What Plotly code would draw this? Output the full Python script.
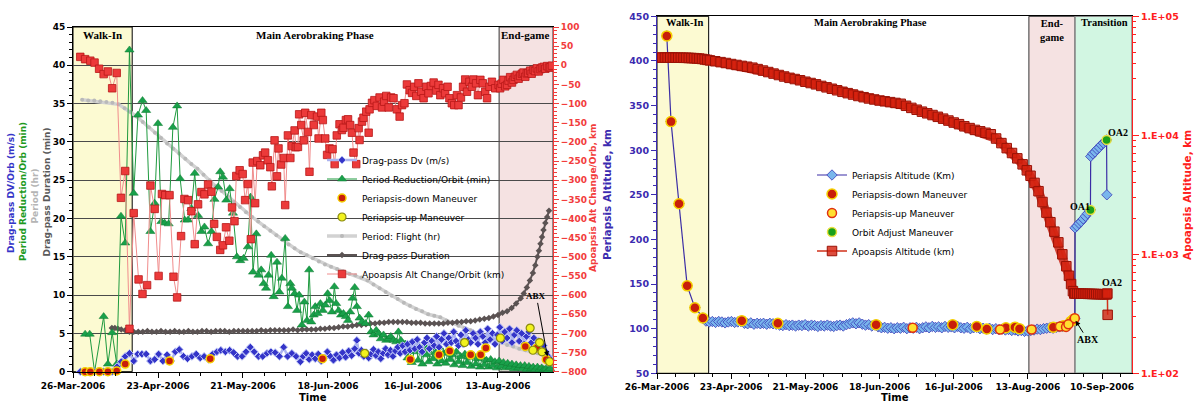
import pandas as pd
import plotly.graph_objects as go

W, H = 1195, 403
BASE = pd.Timestamp("2006-03-26")

# ------------------------------------------------------------------
# LEFT PANEL DATA  (x = days after 26-Mar-2006)
# ------------------------------------------------------------------
dv_days = [2.4, 4.0, 5.7, 7.0, 8.6, 10.1, 11.5, 12.9, 14.5, 15.9, 17.2, 18.6,
           20.0, 21.3, 22.7, 24.1, 25.5, 26.9, 28.2, 29.6, 31.0, 32.3,
           33.7, 35.0, 36.4, 37.7, 39.2, 40.6, 41.9, 43.2, 44.7, 46.0,
           47.4, 48.7, 50.2, 51.6, 52.9, 54.2, 55.7, 57.0, 58.4, 59.7,
           61.1, 62.5, 63.9, 65.2, 66.6, 68.0, 69.4, 70.7, 72.1, 73.5, 74.9,
           75.8, 76.8, 77.8, 78.8, 79.8, 80.8, 81.8, 82.8, 83.8, 84.8,
           85.8, 86.8, 87.8, 88.8, 89.8, 90.8, 91.8, 92.8, 93.5, 94.2,
           95.0, 95.8, 96.6, 97.4, 98.2, 99.0, 99.8, 100.6, 101.4, 102.2,
           103.0, 103.8, 104.6, 105.4, 106.2, 107.0, 107.8, 108.6, 109.4, 110.2,
           111.0, 111.8, 112.6, 113.4, 114.2, 115.0, 115.8, 116.6, 117.4, 118.2,
           119.0, 119.8, 120.6, 121.4, 122.2, 123.0, 123.8, 124.6, 125.4, 126.2,
           127.0, 127.8, 128.6, 129.4, 130.2, 131.0, 131.8, 132.6, 133.4, 134.2,
           135.0, 135.8, 136.6, 137.4, 138.2, 139.0, 139.8, 140.6, 141.4, 142.2,
           143.0, 143.8, 144.6, 145.4, 146.2, 147.0, 147.8, 148.6, 149.4, 150.2,
           151.0, 151.8, 152.6, 153.4, 154.2, 155.0, 155.8, 156.6, 157.4]
dv_vals = [0, 0, 0, 0, 0, 0, 0, 0, 0.65, 1.3, 2.0, 2.4,
           1.4, 2.3, 2.3, 2.3, 1.4, 1.6, 2.3, 1.4, 2.2, 1.4,
           2.6, 2.9, 2.0, 1.7, 2.0, 2.3, 1.8, 2.0, 1.6, 2.3,
           2.6, 2.8, 2.6, 2.8, 2.5, 2.0, 2.0, 2.6, 3.2, 2.6,
           2.0, 2.0, 2.4, 2.6, 2.5, 2.0, 3.2, 2.0, 2.4, 2.0, 1.3,
           2.0, 2.4, 1.6, 2.2, 1.7, 2.3, 1.4, 1.8, 2.6, 2.0,
           1.5, 2.2, 1.8, 2.5, 1.9, 2.7, 2.1, 3.0, 4.1, 2.4,
           2.8, 2.0, 2.5, 1.8, 2.3, 2.9, 2.1, 2.6, 1.7, 2.4,
           3.0, 2.2, 2.8, 2.0, 2.7, 3.2, 2.4, 3.4, 2.6, 3.6,
           2.8, 3.9, 3.0, 4.2, 3.2, 2.6, 3.8, 4.4, 3.0, 4.0,
           3.4, 4.6, 3.2, 4.2, 5.0, 3.6, 4.4, 3.8, 5.2, 4.0,
           3.4, 4.8, 3.6, 5.4, 4.2, 3.8, 5.0, 4.4, 3.6, 5.2,
           4.6, 3.8, 5.6, 4.2, 5.0, 3.6, 4.8, 5.8, 4.0, 5.2,
           4.4, 5.6, 3.8, 4.8, 5.4, 4.0, 5.0, 3.6, 4.6, 5.2,
           3.8, 4.4, 3.2, 4.0, 2.8, 3.4, 2.6, 2.0, 1.6]

pr_days = [4.0, 5.5, 7.1, 10.1, 11.5, 12.9, 14.4, 15.8, 17.2, 18.6,
           20.0, 21.4, 22.9, 24.1, 25.5, 26.9, 28.0, 29.1, 30.2, 31.5,
           32.9, 34.3, 35.3, 36.8, 37.9, 39.0, 40.1, 41.2, 42.3, 43.3,
           44.5, 45.6, 46.6, 47.8, 48.5, 49.4, 50.5, 51.6, 52.7, 54.0,
           55.1, 56.2, 57.6, 58.5, 59.3, 60.4, 61.1, 62.0, 62.8, 63.6,
           64.4, 65.3, 66.1, 67.2, 68.0, 68.8, 69.9, 70.8, 71.6, 72.1,
           73.0, 73.8, 74.5, 75.4, 76.2, 77.1, 77.8, 78.5, 79.3, 79.8,
           80.6, 81.5, 82.3, 83.1, 83.9, 84.5, 85.3, 86.1, 86.7, 87.5,
           88.3, 89.1, 89.9, 90.6, 91.3, 92.1, 92.8, 93.5, 94.4, 95.2,
           96.3, 97.4, 98.2, 99.0, 99.9, 100.7, 101.4, 102.3, 103.2, 104.0,
           104.7, 105.6, 106.5, 107.2, 108.0, 108.9,
           109.5, 110.2, 110.9, 111.6, 112.3, 113.0, 113.7, 114.4, 115.1, 115.8,
           116.5, 117.2, 117.9, 118.6, 119.3, 120.0, 120.7, 121.4, 122.1, 122.8,
           123.5, 124.2, 124.9, 125.6, 126.3, 127.0, 127.7, 128.4, 129.1, 129.8,
           130.5, 131.2, 132.0, 132.7, 133.4, 134.1, 134.8, 135.5, 136.2, 136.9,
           137.6, 138.3, 139.0, 139.7, 140.4, 141.1, 141.8, 142.5, 143.2, 143.9,
           144.6, 145.3, 146.0, 146.7, 147.4, 148.1, 148.8, 149.5, 150.2, 150.9,
           151.6, 152.3, 153.0, 153.7, 154.4, 155.1, 155.8, 156.5, 157.2]
pr_vals = [4.9, 4.9, 0, 7.2, 1.0, 5.1, 1.0, 20.3, 16.8, 42.0,
           23.3, 33.5, 35.4, 34.1, 18.3, 22.0, 32.4, 19.6, 19.4, 19.3,
           31.9, 34.7, 25.2, 19.8, 19.8, 21.3, 25.9, 20.4, 18.3, 18.9,
           16.7, 18.3, 22.5, 24.1, 26.1, 25.4, 22.4, 23.9, 20.7, 15.0,
           14.5, 14.8, 16.3, 22.8, 13.0, 18.0, 12.6, 13.3, 11.5, 10.9,
           12.6, 15.2, 9.8, 14.3, 10.4, 12.2, 17.4, 8.5, 11.5, 10.9,
           10.2, 8.0, 10.0, 6.1, 9.1, 6.7, 13.3, 6.5, 7.4, 8.5,
           7.6, 8.9, 8.0, 8.7, 10.2, 9.3, 7.8, 11.1, 8.9, 8.0,
           7.4, 7.6, 7.2, 6.7, 7.8, 9.6, 11.0, 8.5, 7.0, 6.5,
           6.3, 7.4, 5.2, 4.8, 5.4, 5.0, 4.3, 4.8, 4.1, 4.3,
           4.6, 4.1, 3.9, 5.2, 4.1, 3.5,
           3.6, 1.8, 3.0, 1.2, 2.6, 3.8, 1.5, 2.9, 1.0, 3.4,
           2.2, 1.3, 3.1, 1.7, 2.5, 1.0, 3.2, 1.4, 2.4, 1.1,
           2.8, 1.6, 2.2, 0.9, 2.6, 1.3, 2.0, 0.8, 2.3, 1.2,
           1.9, 0.7, 2.1, 1.0, 1.7, 0.6, 1.9, 0.9, 1.5, 0.6,
           1.6, 0.8, 1.3, 0.5, 1.4, 0.7, 1.2, 0.5, 1.1, 0.6,
           1.0, 0.4, 0.9, 0.5, 0.8, 0.4, 0.8, 0.3, 0.7, 0.4,
           0.6, 0.3, 0.6, 0.3, 0.5, 0.3, 0.4, 0.2, 0.4]

period_days = [3, 5, 7, 9, 11, 13, 15, 17, 19, 21, 23, 25, 27, 29, 31, 33, 35, 37, 39, 41,
               43, 45, 47, 49, 51, 53, 55, 57, 59, 61, 63, 65, 67, 69, 71, 73, 75, 77, 79, 81,
               83, 85, 87, 89, 91, 93, 95, 97, 99, 101, 103, 105, 107, 109, 111, 113, 115, 117,
               119, 121, 123, 125, 127, 129, 131, 133, 135, 137, 139, 141, 143, 145, 147, 149,
               151, 153, 155, 157]
period_vals = [35.5, 35.4, 35.4, 35.3, 35.2, 35.1, 34.9, 34.4, 33.9, 33.3,
               32.6, 31.9, 31.2, 30.5, 29.8, 29.1, 28.5, 27.8, 27.1, 26.5,
               25.7, 25.0, 24.2, 23.6, 22.9, 22.2, 21.5, 20.8, 20.2, 19.6,
               19.0, 18.4, 17.8, 17.2, 16.6, 16.1, 15.6, 15.2, 14.8, 14.4,
               14.0, 13.7, 13.4, 13.1, 12.8, 12.6, 12.3, 11.9, 11.4, 10.9,
               10.4, 9.9, 9.5, 9.0, 8.6, 8.2, 7.9, 7.5, 7.3, 7.1,
               6.7, 6.4, 6.0, 5.7, 5.4, 5.0, 4.7, 4.4, 4.1, 3.8,
               3.5, 3.3, 3.0, 2.8, 2.6, 2.4, 2.2, 2.0]

dur_days = [12.8, 13.8, 14.8, 15.9, 17.2, 18.6,
            20.0, 21.5, 23.0, 24.5, 26.0, 27.5, 29.0, 30.5, 32.0, 33.5,
            35.0, 36.5, 38.0, 39.5, 41.0, 42.5, 44.0, 45.5, 47.0, 48.5,
            50.0, 51.5, 53.0, 54.5, 56.0, 57.5, 59.0, 60.5, 62.0, 63.5,
            65.0, 66.5, 68.0, 69.5, 71.0, 72.5, 74.0, 75.5, 77.0, 78.5,
            80.0, 81.5, 83.0, 84.5, 86.0, 87.5, 89.0, 90.5, 92.0, 93.5,
            95.0, 96.5, 98.0, 99.5, 101.0, 102.5, 104.0, 105.5, 107.0, 108.5,
            110.0, 111.5, 113.0, 114.5, 116.0, 117.5, 119.0, 120.5, 122.0, 123.5,
            125.0, 126.5, 128.0, 129.5, 131.0, 132.5, 134.0, 135.5, 137.0, 138.5,
            140.0, 141.5, 143.0, 144.5, 146.0, 147.5,
            148.5, 149.5, 150.5, 151.5,
            152.3, 153.0, 153.5, 154.0, 154.5, 155.0, 155.6, 156.2, 156.8]
dur_vals = [5.7, 5.7, 5.6, 5.5, 5.4, 5.2,
            5.2, 5.2, 5.2, 5.3, 5.2, 5.2, 5.3, 5.2, 5.2, 5.3,
            5.2, 5.2, 5.3, 5.2, 5.2, 5.3, 5.3, 5.2, 5.3, 5.3,
            5.3, 5.2, 5.3, 5.3, 5.3, 5.3, 5.3, 5.3, 5.4, 5.3,
            5.4, 5.4, 5.4, 5.4, 5.4, 5.5, 5.4, 5.5, 5.5, 5.5,
            5.5, 5.6, 5.6, 5.7, 5.7, 5.8, 5.9, 5.9, 6.0, 6.1,
            6.1, 6.2, 6.3, 6.3, 6.4, 6.4, 6.5, 6.5, 6.5, 6.5,
            6.5, 6.4, 6.4, 6.4, 6.3, 6.3, 6.3, 6.3, 6.3, 6.4,
            6.4, 6.5, 6.5, 6.6, 6.6, 6.7, 6.8, 6.9, 7.0, 7.2,
            7.4, 7.7, 7.9, 8.3, 8.9, 9.6,
            10.2, 11.0, 11.9, 12.9,
            13.9, 15.0, 15.8, 16.7, 17.6, 18.5, 19.4, 20.2, 21.0]

pdown_days_L = [4.0, 5.7, 8.7, 11.5, 14.4, 17.2, 31.8, 45.2, 82.2, 111.1,
                120.6, 124.1, 131.0, 134.3, 136.0, 149.0, 152.8, 155.9]
pdown_vals_L = [0, 0, 0, 0, 0.1, 1.0, 1.4, 1.7, 1.7, 1.6,
                2.2, 2.7, 2.2, 2.2, 3.1, 3.3, 3.1, 1.6]
pup_days_L = [96.1, 129.0, 140.8, 150.6, 151.5, 153.7, 154.5, 157.0]
pup_vals_L = [2.4, 3.8, 4.4, 5.7, 2.8, 3.8, 2.6, 1.3]

apo_chg_days = [2.4, 4.0, 5.7, 7.1, 8.6, 10.1, 11.5, 12.9, 14.4, 15.8,
                17.2, 18.6, 20.0, 21.6, 22.9, 24.4, 25.5, 26.9, 28.2, 29.3,
                30.4, 31.8, 33.1, 34.3, 35.6, 36.7, 37.9, 39.0, 40.1, 41.2,
                42.3, 43.3, 44.5, 45.6, 46.5, 47.4, 48.5, 49.4, 50.4, 51.5,
                52.4, 53.2, 53.8, 54.9, 55.9, 56.7, 57.6, 58.6, 59.2, 60.0,
                60.7, 61.7, 62.6, 63.3, 64.2, 65.0, 65.5, 66.4, 67.2, 67.7,
                68.6, 69.4, 69.9, 70.8, 71.6, 72.1, 73.0, 73.4, 74.1, 74.5,
                75.2, 76.0, 76.5, 77.4, 77.9, 78.5, 79.3, 80.4, 80.9, 81.8,
                82.3, 83.1, 83.7, 84.5, 85.5, 86.2, 86.9, 87.8, 88.6, 89.1,
                89.9, 90.6, 91.3, 91.9, 92.4, 93.3, 94.1, 94.4, 95.2, 95.7,
                96.6, 97.4, 97.7, 98.5, 99.3, 100.1, 101.0, 101.8, 102.5, 103.2,
                104.0, 104.8, 105.6, 106.7, 107.6, 108.4, 109.2, 110.0, 110.9, 111.7,
                112.4, 113.1, 113.8, 114.7, 115.5, 116.4, 117.1, 117.9, 118.8, 119.7,
                120.4, 121.0, 121.9, 122.6, 123.4, 124.0, 124.8, 125.6, 126.5, 127.0,
                127.8, 128.5, 129.2, 129.8, 130.6, 131.4, 131.9, 132.8, 133.4, 134.2,
                135.0, 135.8, 136.4, 137.2, 138.0, 139.1, 140.2, 140.7, 141.2, 141.8,
                142.4, 143.0, 143.5, 144.0, 144.6, 145.1, 145.6, 146.2, 146.8, 147.3,
                147.9, 148.4, 149.0, 149.5, 150.0, 150.6, 151.1, 151.7, 152.2, 152.8,
                153.4, 154.0, 154.5, 155.1, 155.6, 156.2, 156.8, 157.3, 157.8]
apo_chg_vals = [22, 16, 12, 7, -9, -23, -16, -60, -20, -346,
                -276, -688, -386, -559, -597, -574, -314, -375, -550, -336,
                -339, -339, -552, -606, -446, -349, -352, -381, -467, -363,
                -331, -337, -311, -330, -414, -448, -482, -470, -423, -458,
                -371, -407, -289, -274, -284, -352, -310, -454, -254, -360,
                -250, -261, -235, -228, -248, -266, -316, -196, -290, -217,
                -259, -242, -365, -183, -242, -211, -170, -214, -213, -128,
                -156, -196, -124, -174, -278, -130, -156, -134, -191, -124,
                -143, -191, -234, -217, -219, -258, -183, -154, -169, -163,
                -143, -141, -156, -176, -228, -258, -164, -195, -147, -137,
                -121, -176, -115, -98, -91, -106, -84, -110, -95, -80,
                -110, -84, -86, -115, -134, -104, -99, -50, -65, -72,
                -56, -80, -47, -69, -86, -56, -73, -54, -45, -66,
                -51, -78, -60, -73, -56, -86, -99, -104, -78, -104,
                -84, -56, -37, -69, -43, -56, -37, -47, -78, -38,
                -47, -69, -86, -56, -43, -60, -51, -60, -48, -38,
                -55, -51, -40, -31, -45, -38, -30, -25, -35, -28,
                -22, -19, -30, -21, -20, -14, -22, -12, -15, -8,
                -16, -10, -6, -4, -9, -2, -6, -5, -1]

# ------------------------------------------------------------------
# RIGHT PANEL DATA
# ------------------------------------------------------------------
peri_days = [3.7, 5.3, 8.3, 11.4, 14.3, 17.3,
             18.5, 19.7, 20.9, 22.1, 23.3, 24.5, 25.7, 26.9, 28.1, 29.3,
             30.5, 31.7, 33.0, 34.2, 35.4, 36.6, 37.8, 39.0, 40.2, 41.4,
             42.6, 43.8, 45.0, 46.3, 47.5, 48.7, 49.9, 51.1, 52.3, 53.5,
             54.7, 55.9, 57.1, 58.3, 59.5, 60.7, 61.9, 63.1, 64.3, 65.5,
             66.7, 67.9, 69.1, 70.3, 71.5, 72.7, 73.9, 75.1, 76.3, 77.5,
             78.7, 79.9, 81.1, 82.3, 83.5, 84.7, 85.9, 87.1, 88.3, 89.5,
             90.7, 91.9, 93.1, 94.3, 95.5, 96.7, 97.9, 99.1, 100.3, 101.5,
             102.7, 103.9, 105.1, 106.3, 107.5, 108.7, 109.9, 111.1, 112.3, 113.5,
             114.7, 115.9, 117.1, 118.3, 119.5, 120.7, 121.9, 123.1, 124.3, 125.5,
             126.7, 127.9, 129.1, 130.3, 131.5, 132.7, 133.9, 135.1, 136.3, 137.5,
             138.7, 139.9, 141.1, 142.3, 143.5, 144.7, 145.9, 147.1, 148.3, 149.5,
             150.7, 151.9, 153.1, 154.3, 155.3, 156.1, 156.9, 157.7,
             157.8, 158.5, 159.3, 160.1, 160.9, 161.7, 162.5, 163.3, 163.6,
             163.7, 164.5, 165.3, 166.1, 166.9, 167.7, 168.5, 169.3, 169.7, 169.8]
peri_vals = [428, 332, 240, 148, 123.5, 112,
             108.5, 107.5, 108.0, 107.0, 108.0, 107.5, 106.5, 107.5, 108.0, 107.0,
             107.5, 108.0, 106.0, 105.5, 106.5, 105.0, 106.0, 105.5, 106.0, 105.0,
             106.0, 105.5, 105.0, 104.0, 103.5, 104.5, 103.5, 104.0, 103.0, 104.0,
             103.5, 104.5, 103.0, 104.0, 103.5, 102.5, 103.5, 103.0, 104.0, 103.0,
             102.5, 103.5, 104.0, 103.0, 104.5, 105.5, 106.5, 105.5, 106.5, 105.0,
             104.0, 104.5, 103.0, 104.0, 102.0, 101.0, 101.5, 100.5, 101.0, 100.0,
             101.0, 100.5, 101.5, 100.0, 101.0, 100.5, 101.5, 100.0, 101.0, 102.0,
             101.0, 102.5, 101.5, 102.0, 101.0, 102.5, 101.5, 102.0, 101.0, 102.5,
             101.0, 100.5, 101.5, 100.0, 101.0, 101.5, 100.0, 100.5, 99.5, 100.5,
             99.0, 100.0, 99.0, 99.5, 98.5, 99.0, 98.0, 98.5, 97.5, 98.0,
             97.0, 97.5, 98.0, 98.5, 99.5, 99.0, 100.0, 100.5, 101.0, 100.5,
             101.5, 102.0, 102.5, 103.5, 105.0, 107.0, 109.0, 111.5,
             213, 215, 218, 220, 223, 226, 229, 232, 233,
             293, 296, 298, 301, 303, 306, 308, 310, 311.5, 250]

pdown_days_R = [3.7, 5.3, 8.3, 11.4, 14.3, 17.3, 32.0, 45.6, 82.7, 111.6,
                120.7, 124.5, 131.7, 135.1, 136.8, 149.6, 153.4, 156.2, 157.2]
pdown_vals_R = [428, 332, 240, 148, 123.5, 112, 109, 106, 104.5, 104.5,
                102.5, 99.6, 101, 101.7, 100, 101.7, 103.4, 108, 110.5]
pup_days_R = [96.5, 129.5, 141.4, 152.1, 154.4, 155.3, 157.7]
pup_vals_R = [101, 99, 99, 102.5, 102, 105, 111.6]
oa_days = [163.6, 169.7]
oa_vals = [233, 311.5]

apo_days = [1, 2, 3, 4, 5, 6, 7, 8, 9, 10, 11, 12, 13, 14, 15, 16, 17, 18, 19, 20,
            22, 24, 26, 28, 30, 32, 34, 36, 38, 40,
            42, 44, 46, 48, 50, 52, 54, 56, 58, 60,
            62, 64, 66, 68, 70, 72, 74, 76, 78, 80,
            82, 84, 86, 88, 90, 92, 94, 96, 98, 100,
            102, 104, 106, 108, 110, 112, 114, 116, 118, 120,
            122, 124, 126, 128, 130, 132, 134, 136, 138,
            139.6, 141, 142.5, 144, 145.5, 147, 148.5, 150, 151.5, 153, 154.5,
            155.5, 156.3, 157, 157.5,
            157.8, 158.6, 159.4, 160.2, 161.0, 161.8, 162.6, 163.4, 164.2, 165.0,
            165.8, 166.6, 167.4, 168.2, 169.0, 169.7,
            170.0, 170.1]
apo_vals = [45000, 45000, 45000, 45000, 45000, 45000, 44900, 44900, 44900, 44800,
            44800, 44700, 44600, 44500, 44300, 44100, 43800, 43400, 43000, 42600,
            41900, 41200, 40500, 39700, 39000, 38300, 37700, 37000, 36000, 35000,
            34000, 33000, 32100, 31200, 30400, 29700, 29000, 28200, 27500, 26800,
            26000, 25300, 24600, 23900, 23200, 22600, 22000, 21400, 20900, 20400,
            20000, 19600, 19300, 19000, 18700, 18400, 17700, 17000, 16400, 15800,
            15300, 14800, 14300, 13800, 13300, 12800, 12400, 11900, 11500, 11100,
            10800, 10500, 10200, 9400, 8600, 7800, 7100, 6400, 5700,
            5080, 4570, 3980, 3390, 2750, 2240, 1860, 1550, 1260, 1000, 794,
            660, 562, 490, 468,
            470, 468, 468, 467, 466, 466, 465, 465, 464, 464,
            463, 463, 462, 462, 461, 460,
            468, 310]

x_tick_start = "2006-03-26"
left_x_range = ["2006-03-26", "2006-08-31 03:00"]
right_x_range = ["2006-03-26", "2006-09-21 07:00"]
walkin_end = "2006-04-14 12:00"
endgame_start = "2006-08-13 09:00"
transition_start = "2006-08-30 19:00"

pairs = [(dv_days, dv_vals), (pr_days, pr_vals), (period_days, period_vals),
         (dur_days, dur_vals), (pdown_days_L, pdown_vals_L), (pup_days_L, pup_vals_L),
         (apo_chg_days, apo_chg_vals), (peri_days, peri_vals), (pdown_days_R, pdown_vals_R),
         (pup_days_R, pup_vals_R), (oa_days, oa_vals), (apo_days, apo_vals)]
for i, (a, b) in enumerate(pairs):
    assert len(a) == len(b), f"pair {i}: {len(a)} vs {len(b)}"


def D(days):
    return [BASE + pd.Timedelta(days=d) for d in days]


def px(x):
    return x / W


def py(y):
    return 1 - y / H


fig = go.Figure()

# ---------------- left panel traces ----------------
fig.add_trace(go.Scatter(x=D(period_days), y=period_vals, name="Period: Flight (hr)",
                         mode="lines+markers", xaxis="x", yaxis="y", legendrank=5,
                         line=dict(color="#d2d2d2", width=3.5),
                         marker=dict(symbol="circle", size=4, color="#b9b9b9")))
fig.add_trace(go.Scatter(x=D(dur_days), y=dur_vals, name="Drag-pass Duration",
                         mode="lines+markers", xaxis="x", yaxis="y", legendrank=6,
                         line=dict(color="#5b5353", width=2),
                         marker=dict(symbol="diamond", size=5, color="#5b5353")))
fig.add_trace(go.Scatter(x=D(pr_days), y=pr_vals, name="Period Reduction/Orbit (min)",
                         mode="lines+markers", xaxis="x", yaxis="y", legendrank=2, cliponaxis=False,
                         line=dict(color="#1f9a3f", width=1),
                         marker=dict(symbol="triangle-up", size=8, color="#19a04a",
                                     line=dict(color="#0f7a30", width=0.5))))
fig.add_trace(go.Scatter(x=D(dv_days), y=dv_vals, name="Drag-pass Dv (m/s)",
                         mode="lines+markers", xaxis="x", yaxis="y", legendrank=1, cliponaxis=False,
                         line=dict(color="#aab2f0", width=2.5),
                         marker=dict(symbol="diamond", size=6, color="#3434c8",
                                     line=dict(color="#c0c8f8", width=1))))
fig.add_trace(go.Scatter(x=D(pdown_days_L), y=pdown_vals_L, name="Periapsis-down Maneuver",
                         mode="markers", xaxis="x", yaxis="y", legendrank=3, cliponaxis=False,
                         marker=dict(symbol="circle", size=8, color="#c81e0a",
                                     line=dict(color="#f5d000", width=1.5))))
fig.add_trace(go.Scatter(x=D(pup_days_L), y=pup_vals_L, name="Periapsis-up Maneuver",
                         mode="markers", xaxis="x", yaxis="y", legendrank=4, cliponaxis=False,
                         marker=dict(symbol="circle", size=8, color="#f2f21e",
                                     line=dict(color="#8a8a10", width=1.2))))
fig.add_trace(go.Scatter(x=D(apo_chg_days), y=apo_chg_vals, name="Apoapsis Alt Change/Orbit (km)",
                         mode="lines+markers", xaxis="x", yaxis="y2", legendrank=7,
                         line=dict(color="#f08c8c", width=1),
                         marker=dict(symbol="square", size=7.5, color="#ec3a3a",
                                     line=dict(color="#b81818", width=0.8))))

# ---------------- right panel traces ----------------
fig.add_trace(go.Scatter(x=D(peri_days), y=peri_vals, name="Periapsis Altitude (Km)",
                         mode="lines+markers", xaxis="x2", yaxis="y3", legend="legend2", legendrank=1,
                         line=dict(color="#3b2da5", width=1.2),
                         marker=dict(symbol="diamond", size=8, color="#79b6ec",
                                     line=dict(color="#3a3ab8", width=0.8))))
fig.add_trace(go.Scatter(x=D(pdown_days_R), y=pdown_vals_R, name="Periapsis-down Maneuver",
                         mode="markers", xaxis="x2", yaxis="y3", legend="legend2", legendrank=2,
                         marker=dict(symbol="circle", size=10, color="#c81e0a",
                                     line=dict(color="#f5d000", width=1.5))))
fig.add_trace(go.Scatter(x=D(pup_days_R), y=pup_vals_R, name="Periapsis-up Maneuver",
                         mode="markers", xaxis="x2", yaxis="y3", legend="legend2", legendrank=3,
                         marker=dict(symbol="circle", size=9, color="#ffe030",
                                     line=dict(color="#e03010", width=1.5))))
fig.add_trace(go.Scatter(x=D(oa_days), y=oa_vals, name="Orbit Adjust Maneuver",
                         mode="markers", xaxis="x2", yaxis="y3", legend="legend2", legendrank=4,
                         marker=dict(symbol="circle", size=9, color="#1aa01a",
                                     line=dict(color="#e8e040", width=1.5))))
# continuous band under the apoapsis squares (same data, no legend entry)
fig.add_trace(go.Scatter(x=D(apo_days[:-2]), y=apo_vals[:-2], mode="lines", xaxis="x2", yaxis="y4",
                         showlegend=False, hoverinfo="skip",
                         line=dict(color="rgba(200,28,12,0.8)", width=9)))
fig.add_trace(go.Scatter(x=D(apo_days), y=apo_vals, name="Apoapsis Altitude (km)",
                         mode="lines+markers", xaxis="x2", yaxis="y4", legend="legend2", legendrank=5,
                         line=dict(color="#d0301a", width=1.5),
                         marker=dict(symbol="square", size=9.5, color="rgba(212,32,14,0.8)",
                                     line=dict(color="#9a1206", width=1))))

# ---------------- axes ----------------
DAY = 86400000
tick_bold = dict(family="DejaVu Sans", size=9, color="black", weight="bold")
RED = "#f23c3c"
BLUE = "#3b2bb0"

common_x = dict(type="date", tick0=x_tick_start, dtick=28 * DAY, tickformat="%d-%b-%Y",
                ticks="outside", ticklen=5, tickcolor="black", showline=True, linecolor="black",
                linewidth=1, mirror=True, showgrid=False, zeroline=False, tickfont=tick_bold,
                automargin=False,
                minor=dict(dtick=7 * DAY, tick0=x_tick_start, ticks="outside", ticklen=3,
                           tickcolor="black", showgrid=False))

fig.update_layout(
    width=W, height=H, autosize=False,
    margin=dict(l=0, r=0, t=0, b=0),
    paper_bgcolor="white", plot_bgcolor="white",
    font=dict(family="DejaVu Sans", size=9, color="black"),
    xaxis=dict(common_x, domain=[px(73), px(553)], anchor="y", range=left_x_range),
    yaxis=dict(domain=[py(371.7), py(27)], anchor="x", range=[0, 45], dtick=5,
               showgrid=True, gridcolor="#4a4a4a", gridwidth=1, zeroline=False,
               ticks="outside", ticklen=5, tickcolor="black", showline=True,
               linecolor="black", tickfont=tick_bold, automargin=False,
               minor=dict(dtick=1, ticks="outside", ticklen=3, tickcolor="black", showgrid=False)),
    yaxis2=dict(overlaying="y", side="right", anchor="x", range=[-800, 100], dtick=50,
                showgrid=False, zeroline=False, ticks="outside", ticklen=5, tickcolor=RED,
                showline=True, linecolor=RED, tickfont=dict(tick_bold, color=RED),
                automargin=False,
                minor=dict(dtick=10, ticks="outside", ticklen=3, tickcolor=RED, showgrid=False)),
    xaxis2=dict(common_x, domain=[px(657), px(1132)], anchor="y3", range=right_x_range),
    yaxis3=dict(domain=[py(373.3), py(16.3)], anchor="x2", range=[50, 450], dtick=50,
                showgrid=False, zeroline=False, ticks="outside", ticklen=5, tickcolor=BLUE,
                showline=True, linecolor=BLUE, tickfont=dict(tick_bold, color=BLUE, size=9.5),
                automargin=False,
                minor=dict(dtick=10, ticks="outside", ticklen=3, tickcolor=BLUE, showgrid=False)),
    yaxis4=dict(overlaying="y3", side="right", anchor="x2", type="log", range=[2, 5],
                tickmode="array", tickvals=[1e2, 1e3, 1e4, 1e5],
                ticktext=["1.E+02", "1.E+03", "1.E+04", "1.E+05"],
                showgrid=False, zeroline=False, ticks="outside", ticklen=6, tickcolor="#ff2020",
                showline=True, linecolor="#ff2020", automargin=False,
                tickfont=dict(tick_bold, color="#ff2020", size=9.5),
                minor=dict(tickmode="array",
                           tickvals=[m * 10 ** e for e in (2, 3, 4) for m in range(2, 10)],
                           ticks="outside", ticklen=3, tickcolor="#ff2020", showgrid=False)),
    legend=dict(x=px(322), y=py(217), xanchor="left", yanchor="middle",
                bgcolor="rgba(0,0,0,0)", font=dict(family="DejaVu Sans", size=9, color="black")),
    legend2=dict(x=px(812), y=py(213), xanchor="left", yanchor="middle",
                 bgcolor="rgba(0,0,0,0)", font=dict(family="DejaVu Sans", size=9, color="black")),
)

# ---------------- phase regions ----------------
shapes = [
    dict(type="rect", xref="x", yref="y domain", x0=left_x_range[0], x1=walkin_end, y0=0, y1=1,
         fillcolor="#fcfad2", line=dict(color="black", width=1), layer="below"),
    dict(type="rect", xref="x", yref="y domain", x0=endgame_start, x1=left_x_range[1], y0=0, y1=1,
         fillcolor="#f5e2e2", line=dict(color="#333", width=1), layer="below"),
    dict(type="rect", xref="x2", yref="y3 domain", x0=right_x_range[0], x1=walkin_end, y0=0, y1=1,
         fillcolor="#fcfad2", line=dict(color="black", width=1), layer="below"),
    dict(type="rect", xref="x2", yref="y3 domain", x0=endgame_start, x1=transition_start, y0=0, y1=1,
         fillcolor="#f5e2e2", line=dict(color="#333", width=1), layer="below"),
    dict(type="rect", xref="x2", yref="y3 domain", x0=transition_start, x1=right_x_range[1], y0=0, y1=1,
         fillcolor="#d2f6e2", line=dict(color="#8a8a8a", width=1.5), layer="below"),
]
fig.update_layout(shapes=shapes)

# ---------------- annotations ----------------
serif = dict(family="Liberation Serif", size=11, color="black", weight="bold")
serif_r = dict(serif, size=10.5)
ann = []


def label(text, x, y, font, **kw):
    ann.append(dict(text=text, x=px(x), y=py(y), xref="paper", yref="paper",
                    showarrow=False, font=font, xanchor="center", yanchor="middle", **kw))


label("Walk-In", 102, 35, serif)
label("Main Aerobraking Phase", 315, 35, serif)
label("End-game", 525, 35, serif)
label("Walk-In", 684.5, 23, serif_r)
label("Main Aerobraking Phase", 870, 23, serif_r)
label("End-<br>game", 1052, 31, serif_r)
label("Transition", 1104, 23, serif_r)
label("OA1", 1080, 207, dict(serif, size=10))
label("OA2", 1118, 132, dict(serif, size=10))
label("OA2", 1112, 282, dict(serif, size=10))

title_font = dict(family="DejaVu Sans", size=9, weight="bold")
label("Drag-pass DV/Orb (m/s)", 11, 193, dict(title_font, color="#3535c8"), textangle=-90)
label("Period Reduction/Orb (min)", 23, 192, dict(title_font, color="#1e9a1e"), textangle=-90)
label("Period (hr)", 34.5, 196, dict(title_font, color="#b5b5b5"), textangle=-90)
label("Drag-pass Duration (min)", 46.5, 192, dict(title_font, color="#5a5a5a"), textangle=-90)
label("Apoapsis Alt Change/Orb, km", 593, 198, dict(title_font, color=RED), textangle=-90)
label("Periapsis Altitude, km", 607, 195, dict(title_font, size=10.5, color=BLUE), textangle=-90)
label("Apoapsis Altitude, km", 1187, 195, dict(title_font, size=10.5, color="#ff2020"), textangle=-90)
label("Time", 313, 397, dict(title_font, size=10, color="black"))
label("Time", 895, 397, dict(title_font, size=10, color="black"))

ann.append(dict(text="ABX", x="2006-08-29 07:00", y=2.0, xref="x", yref="y",
                ax=-11, ay=-60, showarrow=True, arrowhead=2, arrowsize=1, arrowwidth=1,
                arrowcolor="black", font=dict(serif, size=9)))
ann.append(dict(text="ABX", x="2006-08-31 00:00", y=109, xref="x2", yref="y3",
                ax=12, ay=19, showarrow=True, arrowhead=2, arrowsize=1, arrowwidth=1,
                arrowcolor="black", font=dict(serif, size=10)))
fig.update_layout(annotations=ann)

fig.write_html("out.html")
